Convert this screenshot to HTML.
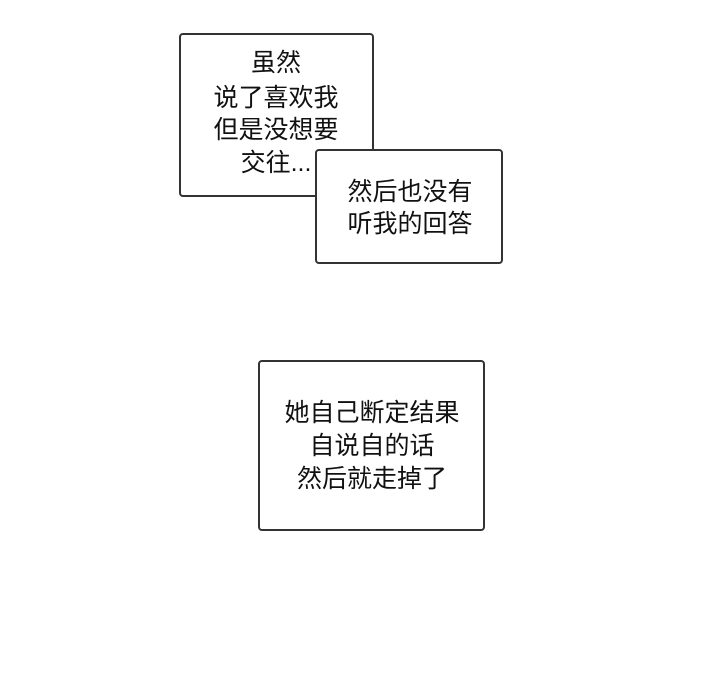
<!DOCTYPE html>
<html><head><meta charset="utf-8"><style>
body{margin:0;width:720px;height:700px;background:#fff;position:relative;overflow:hidden;font-family:"Liberation Sans","Noto Sans CJK SC",sans-serif;color:#111}
.b{position:absolute;background:#fff;border:2px solid #333;border-radius:4px;box-sizing:border-box}
.t{position:absolute;width:300px;text-align:center;font-size:25px;line-height:28px;white-space:nowrap}
</style></head><body>
<div class="b" style="left:179px;top:33px;width:195px;height:164px"></div>
<div class="b" style="left:315px;top:149px;width:188px;height:115px"></div>
<div class="t" style="left:126px;top:49px">虽然</div>
<div class="t" style="left:126px;top:84px">说了喜欢我</div>
<div class="t" style="left:126px;top:116px">但是没想要</div>
<div class="t" style="left:126px;top:149px">交往...</div>
<div class="t" style="left:260px;top:178px">然后也没有</div>
<div class="t" style="left:260px;top:210px">听我的回答</div>
<div class="b" style="left:258px;top:360px;width:227px;height:171px"></div>
<div class="t" style="left:222px;top:399px">她自己断定结果</div>
<div class="t" style="left:222px;top:432px">自说自的话</div>
<div class="t" style="left:222px;top:465px">然后就走掉了</div>
</body></html>
